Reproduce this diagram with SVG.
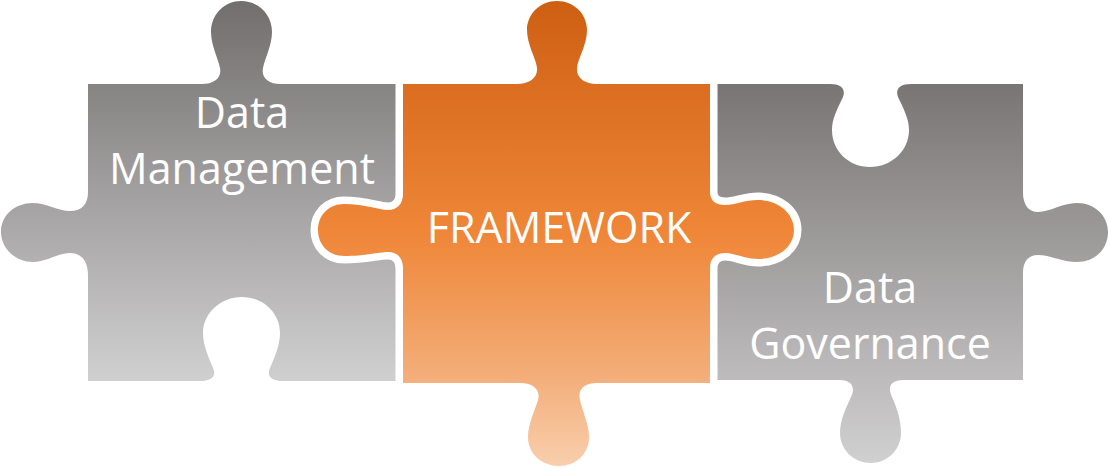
<svg xmlns="http://www.w3.org/2000/svg" width="1109" height="467" viewBox="0 0 1109 467">
<defs>
<linearGradient id="gL" gradientUnits="userSpaceOnUse" x1="0" y1="0" x2="0" y2="382">
<stop offset="0" stop-color="#716e6d"/>
<stop offset="1" stop-color="#d1d0d1"/>
</linearGradient>
<linearGradient id="gR" gradientUnits="userSpaceOnUse" x1="0" y1="84" x2="0" y2="467">
<stop offset="0" stop-color="#797574"/>
<stop offset="1" stop-color="#d2d1d2"/>
</linearGradient>
<linearGradient id="gO" gradientUnits="userSpaceOnUse" x1="0" y1="0" x2="0" y2="467">
<stop offset="0" stop-color="#cd5f12"/>
<stop offset="0.18" stop-color="#da6d1f"/>
<stop offset="0.5" stop-color="#ef8638"/>
<stop offset="0.8" stop-color="#f3ad78"/>
<stop offset="1" stop-color="#f9cfae"/>
</linearGradient>
</defs>
<style>
.lbl{font-family:"Open Sans","Noto Sans","Liberation Sans",sans-serif;font-size:43px;font-weight:400;fill:#ffffff;text-anchor:middle}
.ring{stroke:#ffffff;stroke-width:15;stroke-linejoin:round;paint-order:stroke fill}
</style>
<g id="data-management">
<path fill="url(#gL)" d="M88,84 H202 C214,84 222,78 220,68 C218,58 211,45 211,32 C211,14 225,1 241,1 C258,1 272,14 272,32 C272,45 265,58 263,68 C261,78 269,84 280,84 H398 V381 H283 C272,381 266,376 270,368 C274,358 280,346 280,333 C280,313 263,297 242,297 C221,297 203,313 203,333 C203,346 209,358 213,368 C217,376 211,381 200,381 H88 V275 C88,262 82,253 70,253 C58,253 46,262 33,262 C15,262 1,248 1,232 C1,215 15,203 33,203 C46,203 58,211 70,211 C82,211 88,204 88,192 Z"/>
<text class="lbl" x="242" y="128">Data</text>
<text class="lbl" x="242" y="184">Management</text>
</g>
<g id="data-governance">
<path fill="url(#gR)" d="M714,84 H830 C841,84 846,89 843,97 C838,108 832,118 832,130 C832,151 849,167 870,167 C891,167 909,151 909,130 C909,118 903,108 898,97 C895,89 900,84 911,84 H1023 V193 C1023,204 1028,212 1038,212 C1050,212 1062,203 1077,203 C1095,203 1108,216 1108,232 C1108,249 1095,262 1077,262 C1062,262 1050,255 1038,255 C1028,255 1023,262 1023,272 V380 H903 C891,380 887,387 892,397 C897,408 901,420 901,433 C901,450 887,463 871,463 C854,463 840,450 840,433 C840,420 846,408 851,397 C856,387 851,380 840,380 H714 Z"/>
<text class="lbl" x="870" y="303">Data</text>
<text class="lbl" x="870" y="359">Governance</text>
</g>
<g id="framework">
<path class="ring" fill="url(#gO)" d="M403,84 H517 C529,84 538,78 537,68 C536,58 527,45 527,30 C527,14 540,1 557,1 C574,1 587,14 587,30 C587,45 578,58 577,68 C576,78 585,84 597,84 H710 V192 C710,201 716,205 725,205 C735,205 745,200 758,200 C778,200 794,213 794,230 C794,247 778,259 758,259 C745,259 735,253 725,253 C716,253 710,258 710,268 V383 H597 C585,383 577,389 580,400 C582,410 589,424 589,437 C589,454 576,466 559,466 C542,466 528,454 528,437 C528,424 535,410 538,400 C541,389 532,383 520,383 H403 V268 C403,258 397,252 388,252 C378,252 366,256 344,256 C329,256 318,245 318,230 C318,215 329,204 344,204 C366,204 378,210 388,210 C397,210 403,204 403,194 Z"/>
<text class="lbl" x="559" y="243">FRAMEWORK</text>
</g>
</svg>
